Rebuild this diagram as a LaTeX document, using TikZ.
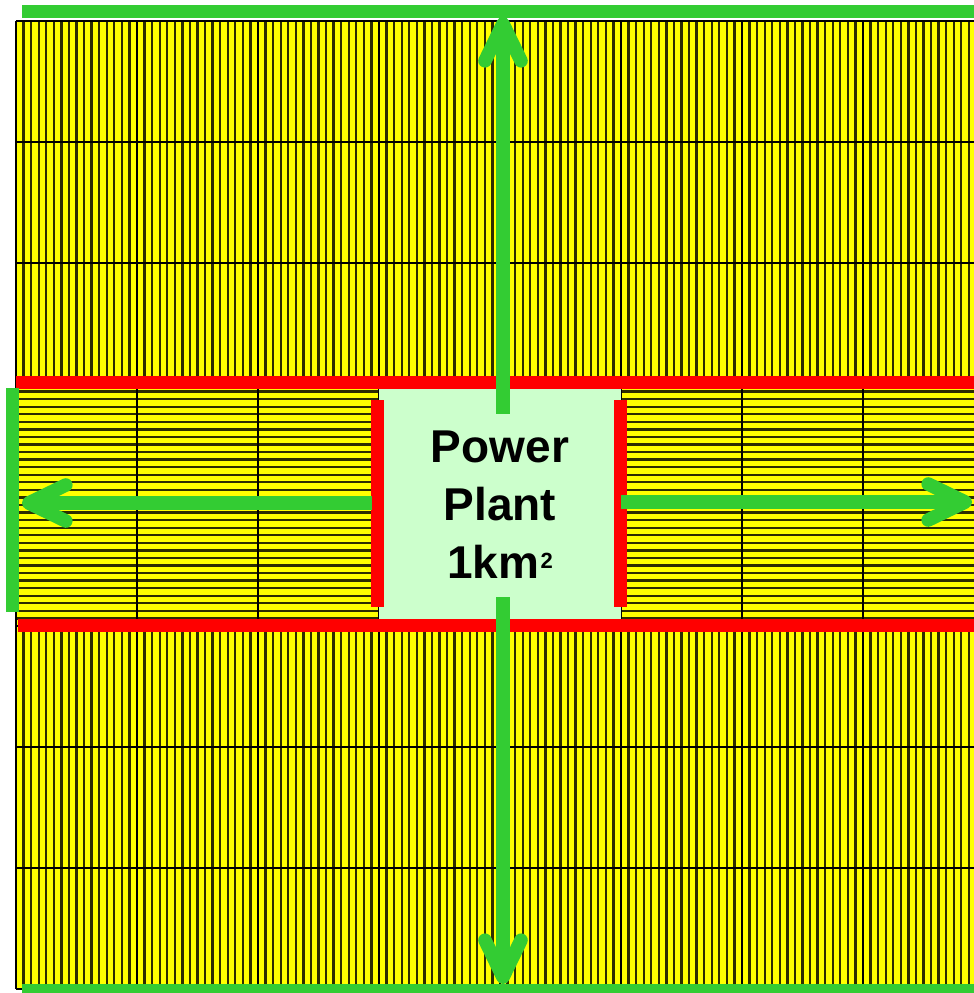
\documentclass[tikz,border=0pt]{standalone}
\usepackage{fontspec}
\setmainfont{Liberation Sans}
\usetikzlibrary{arrows.meta}
\definecolor{panelyellow}{RGB}{255,255,0}
\definecolor{stripeblack}{RGB}{45,45,0}
\definecolor{plantgreen}{RGB}{204,255,204}
\definecolor{linegreen}{RGB}{51,204,51}
\definecolor{wallred}{RGB}{255,0,0}

\begin{document}
\begin{tikzpicture}[x=0.5pt, y=-0.5pt, line cap=butt,
  stripe/.style={stripeblack, line width=1.15pt},
  gridline/.style={black, line width=1.4pt},
  wall/.style={wallred, line width=6.5pt},
  border/.style={linegreen, line width=6.5pt},
  flow/.style={linegreen, line width=6.8pt, -{Straight Barb[length=18.5pt, width=18pt, round]}},
  plantbox/.style={rectangle, fill=plantgreen, inner sep=0pt, minimum width=121pt, minimum height=121pt,
    align=center, font=\fontsize{23}{29}\selectfont\bfseries}]
  \useasboundingbox (0,0) rectangle (974,993);
  \begin{scope}
    \clip (0,0) rectangle (974,993);
    % solar field
    \fill[panelyellow] (16,21) rectangle (1000,989);
    \foreach \i in {0,...,127}
      \draw[stripe] ({16+\i*121/16},21) -- ({16+\i*121/16},384)
                    ({16+\i*121/16},626) -- ({16+\i*121/16},989);
    \foreach \j in {1,...,31}
      \draw[stripe] (16,{384+\j*121/16}) -- (379,{384+\j*121/16})
                    (621,{384+\j*121/16}) -- (1000,{384+\j*121/16});
    % grid of cells
    \foreach \k in {0,...,8}
      \draw[gridline] ({16+121*\k},21) -- ({16+121*\k},384)
                      ({16+121*\k},626) -- ({16+121*\k},989);
    \foreach \k in {0,1,2,3,5,6,7,8}
      \draw[gridline] ({16+121*\k},384) -- ({16+121*\k},626);
    \foreach \y in {21,142,263,384,626,747,868,989}
      \draw[gridline] (16,\y) -- (1000,\y);
    % power plant
    \node[plantbox] (plant) at (500,505)
      {Power\\Plant\\1km\kern0.8pt\raisebox{5pt}{\fontsize{11}{11}\selectfont 2}};
    \draw[wall] (16,382.5) -- (974,382.5);
    \draw[wall] (18,625) -- (974,625);
    \draw[wall] (377.5,400) -- (377.5,607);
    \draw[wall] (620.5,400) -- (620.5,607);
    % field edges
    \draw[border] (22,11.5) -- (974,11.5);
    \draw[border] (22,990) -- (974,990);
    \draw[border] (12.5,388) -- (12.5,612);
    % transmission
    \coordinate (northend) at (503,17);
    \coordinate (southend) at (503,984);
    \coordinate (westend) at (22,503);
    \coordinate (eastend) at (972,502);
    \draw[flow] ([xshift=1.5pt, yshift=-15pt]plant.north) -- (northend);
    \draw[flow] ([xshift=1.5pt, yshift=14.5pt]plant.south) -- (southend);
    \draw[flow] ([xshift=-3.5pt, yshift=1pt]plant.west) -- (westend);
    \draw[flow] ([yshift=1.5pt]plant.east) -- (eastend);
  \end{scope}
\end{tikzpicture}
\end{document}
